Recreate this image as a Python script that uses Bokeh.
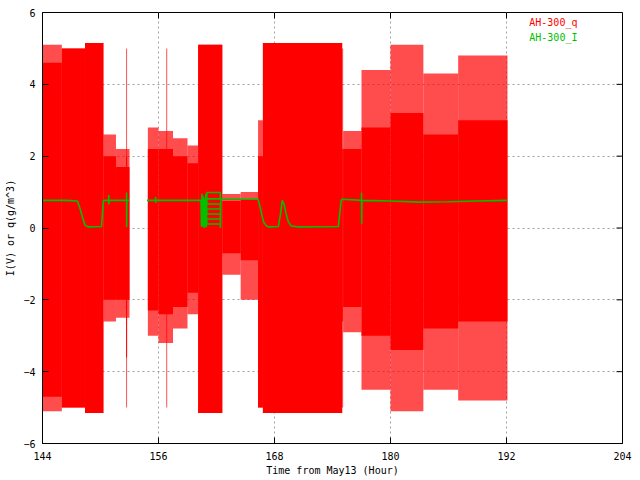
import math
from bokeh.plotting import figure
from bokeh.models import ColumnDataSource, Label, FixedTicker
from bokeh.embed import file_html
from bokeh.resources import INLINE

nan = float("nan")

# AH-300_q : envelope of the dense noise, read per time block (hours)
q_start = [144.0, 146.0, 148.4, 150.3, 151.6, 152.65, 154.9, 156.0, 156.8, 157.5, 159.0,
           160.1, 162.6, 164.5, 166.3, 166.8, 175.0, 175.1, 177.0, 180.0, 183.4, 187.0]
q_end   = [146.0, 148.4, 150.3, 151.6, 153.0, 152.75, 156.0, 157.5, 156.9, 159.0, 160.1,
           162.6, 164.5, 166.3, 166.8, 175.0, 175.1, 177.0, 180.0, 183.4, 187.0, 192.1]
q_core_lo = [-4.7, -5.0, -5.15, -2.0, -2.0, -3.6, -2.3, -2.4, -2.4, -2.2, -1.8,
             -5.15, -0.7, -0.9, -5.0, -5.15, -2.6, -2.2, -3.0, -3.4, -2.8, -2.6]
q_core_hi = [4.6, 5.0, 5.15, 2.0, 1.7, 2.0, 2.2, 2.2, 2.2, 2.0, 1.8,
             5.1, 0.75, 0.8, 2.0, 5.15, 2.2, 2.2, 2.8, 3.2, 2.6, 3.0]
q_out_lo = [-5.1, -5.0, -5.15, -2.6, -2.5, -5.0, -3.0, -3.2, -5.0, -2.8, -2.4,
            -5.15, -1.3, -2.0, -5.0, -5.15, -5.0, -2.9, -4.5, -5.1, -4.5, -4.8]
q_out_hi = [5.1, 5.0, 5.15, 2.6, 2.2, 5.0, 2.8, 2.7, 5.0, 2.5, 2.3,
            5.1, 0.95, 1.0, 3.0, 5.15, 5.0, 2.7, 4.4, 5.1, 4.3, 4.8]

# AH-300_I
i_hour = [144.0, 145.0, 146.5, 147.6, 147.8, 148.0, 148.2, 148.4, 148.7, 150.1, 150.3,
          150.85, 150.85, 150.86, 150.87, 152.7, 152.7, 152.71, 152.72, 153.0, nan,
          154.8, 155.7, 155.7, 155.71, 155.72, 160.4,
          160.45, 160.5, 160.55, 160.6, 160.65, 160.7, 160.75, 160.8, 160.85, 160.9, 160.95,
          161.0, 162.4, 162.4, 161.0, 161.0, 162.4, 162.4, 161.0, 161.0, 162.4, 162.4,
          161.0, 161.0, 162.4, 162.4, 162.45,
          166.3, 166.5, 166.7, 166.9, 167.2, 167.5, 168.4, 168.6, 168.8, 169.0, 169.2, 169.4,
          169.7, 170.5, 174.6, 174.75, 174.9, 175.0, 177.0, 177.0, 177.02, 177.04,
          180.0, 183.0, 186.0, 189.0, 192.1]
i_val = [0.77, 0.77, 0.77, 0.75, 0.61, 0.43, 0.24, 0.08, 0.03, 0.04, 0.77,
         0.77, 0.92, 0.66, 0.77, 0.77, 0.99, 0.03, 0.77, 0.77, nan,
         0.77, 0.77, 0.86, 0.70, 0.77, 0.77,
         0.05, 0.95, 0.02, 0.90, 0.05, 0.85, 0.0, 0.80, 0.05, 0.95, 0.02,
         0.99, 0.99, 0.81, 0.81, 0.67, 0.67, 0.53, 0.53, 0.39, 0.39, 0.25,
         0.25, 0.11, 0.11, 0.0, 0.80,
         0.80, 0.60, 0.35, 0.15, 0.05, 0.03, 0.04, 0.35, 0.77, 0.65, 0.40, 0.20,
         0.06, 0.03, 0.04, 0.40, 0.77, 0.80, 0.77, 0.98, 0.12, 0.77,
         0.75, 0.72, 0.73, 0.75, 0.77]

x_ticks = [144, 156, 168, 180, 192, 204]
y_ticks = [-6, -4, -2, 0, 2, 4, 6]

RED = "#ff0000"
GREEN = "#00c000"
FONT = "DejaVu Sans Mono"

X0, X1, Y0, Y1 = 144, 204, -6, 6
p = figure(width=640, height=480, x_range=(X0, X1), y_range=(Y0, Y1),
           output_backend="svg", toolbar_location=None, title=None,
           min_border_left=42, min_border_right=18, min_border_top=12, min_border_bottom=37)
p.background_fill_color = "white"
p.border_fill_color = "white"
p.outline_line_color = "black"
p.outline_line_width = 1

p.xgrid.ticker = FixedTicker(ticks=x_ticks)
p.ygrid.ticker = FixedTicker(ticks=y_ticks)
for g in (p.xgrid[0], p.ygrid[0]):
    g.grid_line_color = "#a0a0a0"
    g.grid_line_dash = "2 3"
    g.grid_line_width = 1

qsrc = ColumnDataSource(dict(left=q_start, right=q_end, clo=q_core_lo, chi=q_core_hi,
                             olo=q_out_lo, ohi=q_out_hi))
p.quad(left="left", right="right", bottom="olo", top="ohi", source=qsrc,
       fill_color=RED, fill_alpha=0.7, line_color=None)
p.quad(left="left", right="right", bottom="clo", top="chi", source=qsrc,
       fill_color=RED, fill_alpha=1.0, line_color=None)

p.line(i_hour, i_val, line_color=GREEN, line_width=1.6)

for ax in (p.xaxis[0], p.yaxis[0]):
    ax.major_label_text_font = FONT
    ax.major_label_text_font_size = "10px"
    ax.major_label_text_color = "black"
    ax.axis_label_text_font = FONT
    ax.axis_label_text_font_size = "10px"
    ax.axis_label_text_font_style = "normal"
    ax.axis_label_text_color = "black"
    ax.major_tick_in = 6
    ax.major_tick_out = 0
    ax.minor_tick_in = 0
    ax.minor_tick_out = 0
    ax.axis_line_color = "black"
    ax.major_tick_line_color = "black"
p.xaxis[0].ticker = FixedTicker(ticks=x_ticks)
p.yaxis[0].ticker = FixedTicker(ticks=y_ticks)
p.xaxis[0].axis_label = "Time from May13 (Hour)"
p.yaxis[0].axis_label = "I(V) or q(g/m^3)"
p.xaxis[0].major_label_standoff = 8
p.xaxis[0].axis_label_standoff = 2
p.yaxis[0].major_label_standoff = 7
p.yaxis[0].axis_label_standoff = 4

# mirrored tick marks on the top and right borders (6 px long)
tdx = (X1 - X0) * 6 / 580
tdy = (Y1 - Y0) * 6 / 431
p.segment(x0=[X1] * len(y_ticks), y0=y_ticks, x1=[X1 - tdx] * len(y_ticks), y1=y_ticks,
          line_color="black", line_width=1)
p.segment(x0=x_ticks, y0=[Y1] * len(x_ticks), x1=x_ticks, y1=[Y1 - tdy] * len(x_ticks),
          line_color="black", line_width=1)

p.add_layout(Label(x=199.34, y=5.735, text="AH-300_q", text_color=RED, text_font=FONT,
                   text_font_size="10px", text_align="right", text_baseline="middle"))
p.add_layout(Label(x=199.34, y=5.317, text="AH-300_I", text_color=GREEN, text_font=FONT,
                   text_font_size="10px", text_align="right", text_baseline="middle"))

open("out.html", "w").write(file_html(p, INLINE))
